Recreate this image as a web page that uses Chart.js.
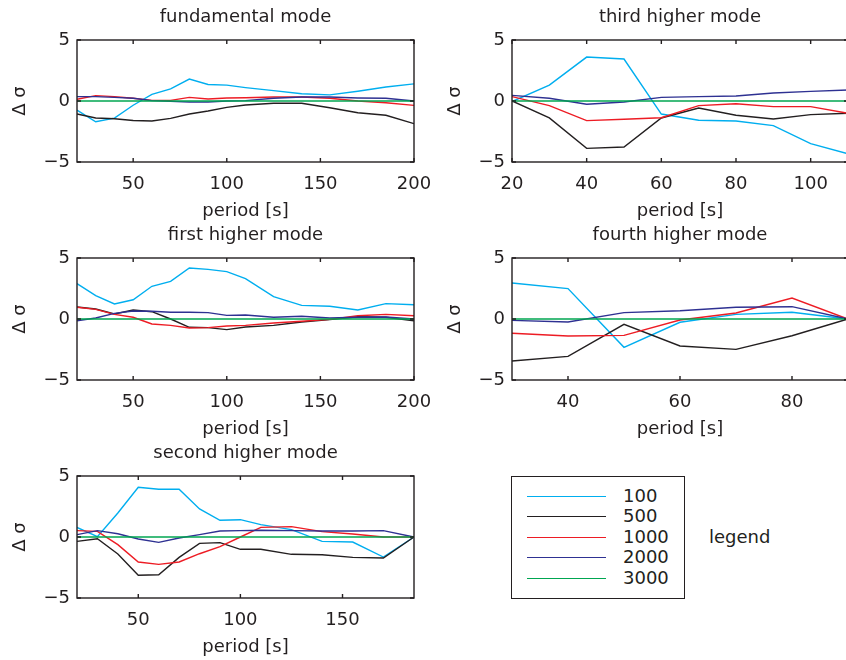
<!DOCTYPE html>
<html>
<head>
<meta charset="utf-8">
<title>Δσ per mode</title>
<script src="https://cdn.jsdelivr.net/npm/chart.js@4.4.1/dist/chart.umd.min.js"></script>
<style>
    html, body {
        margin: 0;
        padding: 0;
        overflow: hidden;
        background: #ffffff;
    }
    body {
        position: relative;
        width: 846px;
        height: 660px;
        font-family: "DejaVu Sans", sans-serif;
        color: #231f20;
    }
    canvas.panel {
        position: absolute;
    }
    #legendBox {
        position: absolute;
        left: 511px;
        top: 476px;
        width: 172px;
        height: 121px;
        border: 1.5px solid #231f20;
    }
    .legend-row {
        position: absolute;
        left: 0;
        height: 20px;
        width: 172px;
        font-size: 18px;
        line-height: 20px;
    }
    .legend-line {
        position: absolute;
        left: 15px;
        top: 10px;
        width: 79px;
        height: 1px;
    }
    .legend-label {
        position: absolute;
        left: 111px;
        top: 0;
    }
    #legendText {
        position: absolute;
        left: 709px;
        top: 526px;
        font-size: 18px;
        line-height: 22px;
    }
</style>
</head>
<body>
<canvas id="fundChart" class="panel" width="444" height="225"></canvas>
<canvas id="thirdChart" class="panel" width="433" height="225"></canvas>
<canvas id="firstChart" class="panel" width="444" height="225"></canvas>
<canvas id="fourthChart" class="panel" width="433" height="225"></canvas>
<canvas id="secondChart" class="panel" width="444" height="225"></canvas>
<div id="legendBox"></div>
<div id="legendText">legend</div>

<script>
// Series shared by every panel
const SERIES_NAMES = ['100', '500', '1000', '2000', '3000'];
const SERIES_COLORS = ['#00aeef', '#231f20', '#ed1c24', '#2e3192', '#00a651'];
const Y_TICKS = [-5, 0, 5];

// fundamental mode
const fundPeriods = [20, 30, 40, 50, 60, 70, 80, 90, 100, 110, 125, 140, 155, 170, 185, 200];
const fund100  = [-0.75, -1.7, -1.4, -0.35, 0.55, 1.0, 1.8, 1.35, 1.3, 1.1, 0.85, 0.6, 0.5, 0.8, 1.15, 1.4];
const fund500  = [-1.07, -1.39, -1.45, -1.6, -1.64, -1.42, -1.07, -0.82, -0.52, -0.33, -0.19, -0.19, -0.55, -0.96, -1.17, -1.86];
const fund1000 = [0.14, 0.44, 0.36, 0.22, 0.05, 0.05, 0.3, 0.16, 0.25, 0.27, 0.33, 0.33, 0.22, 0, -0.14, -0.36];
const fund2000 = [0.36, 0.36, 0.3, 0.22, 0.03, -0.03, -0.08, -0.08, 0, 0.03, 0.22, 0.33, 0.33, 0.25, 0.22, 0];
const fund3000 = [0, 0, 0, 0, 0, 0, 0, 0, 0, 0, 0, 0, 0, 0, 0, 0];
const fundTicks = [50, 100, 150, 200];

// third higher mode
const thirdPeriods = [20, 30, 40, 50, 60, 70, 80, 90, 100, 110];
const third100  = [-0.05, 1.31, 3.6, 3.44, -1.07, -1.58, -1.64, -2.02, -3.5, -4.32];
const third500  = [0, -1.39, -3.88, -3.77, -1.39, -0.57, -1.17, -1.48, -1.12, -1.01];
const third1000 = [0.36, -0.38, -1.61, -1.5, -1.37, -0.38, -0.22, -0.46, -0.46, -1.01];
const third2000 = [0.46, 0.22, -0.27, -0.08, 0.3, 0.36, 0.41, 0.66, 0.79, 0.9];
const third3000 = [0, 0, 0, 0, 0, 0, 0, 0, 0, 0];
const thirdTicks = [20, 40, 60, 80, 100];

// first higher mode
const firstPeriods = [20, 30, 40, 50, 60, 70, 80, 90, 100, 110, 125, 140, 155, 170, 185, 200];
const first100  = [2.9, 1.91, 1.23, 1.58, 2.68, 3.09, 4.18, 4.07, 3.88, 3.31, 1.83, 1.12, 1.04, 0.74, 1.26, 1.17];
const first500  = [0.98, 0.82, 0.41, 0.74, 0.6, 0, -0.68, -0.71, -0.87, -0.66, -0.52, -0.25, -0.05, 0.19, 0.14, -0.14];
const first1000 = [0.96, 0.79, 0.38, 0.14, -0.41, -0.52, -0.74, -0.71, -0.57, -0.52, -0.33, -0.19, -0.03, 0.27, 0.38, 0.27];
const first2000 = [-0.14, 0.08, 0.46, 0.66, 0.63, 0.55, 0.55, 0.52, 0.3, 0.33, 0.14, 0.22, 0.08, 0.14, 0.16, 0];
const first3000 = [0, 0, 0, 0, 0, 0, 0, 0, 0, 0, 0, 0, 0, 0, 0, 0];
const firstTicks = [50, 100, 150, 200];

// fourth higher mode
const fourthPeriods = [30, 40, 50, 60, 70, 80, 90];
const fourth100  = [2.95, 2.49, -2.32, -0.27, 0.38, 0.55, 0];
const fourth500  = [-3.44, -3.06, -0.44, -2.21, -2.49, -1.37, 0];
const fourth1000 = [-1.17, -1.39, -1.34, -0.08, 0.49, 1.72, 0];
const fourth2000 = [-0.11, -0.25, 0.52, 0.68, 0.96, 1.01, 0];
const fourth3000 = [0, 0, 0, 0, 0, 0, 0];
const fourthTicks = [40, 60, 80];

// second higher mode
const secondPeriods = [20, 30, 40, 50, 60, 70, 80, 90, 100, 110, 125, 140, 155, 170, 185];
const second100  = [0.79, 0.03, 1.97, 4.07, 3.91, 3.91, 2.3, 1.37, 1.42, 1.01, 0.6, -0.36, -0.41, -1.64, 0];
const second500  = [-0.36, -0.14, -1.39, -3.14, -3.09, -1.67, -0.52, -0.46, -1.01, -1.01, -1.42, -1.45, -1.67, -1.72, 0];
const second1000 = [0.52, 0.46, -0.63, -2.05, -2.24, -2.05, -1.37, -0.79, 0, 0.79, 0.85, 0.44, 0.25, 0, 0];
const second2000 = [0.19, 0.52, 0.27, -0.16, -0.44, -0.08, 0.19, 0.49, 0.52, 0.55, 0.52, 0.49, 0.49, 0.52, 0];
const second3000 = [0, 0, 0, 0, 0, 0, 0, 0, 0, 0, 0, 0, 0, 0, 0];
const secondTicks = [50, 100, 150];

const TEXT_COLOR = '#231f20';
const FONT = { family: '"DejaVu Sans", sans-serif', size: 18, weight: 'normal' };

Chart.defaults.font.family = FONT.family;
Chart.defaults.font.size = FONT.size;
Chart.defaults.color = TEXT_COLOR;

// Axes box with inward tick marks, like the original figure
const axesBoxPlugin = {
    id: 'axesBox',
    afterDraw(chart) {
        const { ctx, chartArea: a, scales } = chart;
        ctx.save();
        ctx.strokeStyle = TEXT_COLOR;
        ctx.lineWidth = 1.4;
        ctx.beginPath();
        scales.x.ticks.forEach(t => {
            const px = scales.x.getPixelForValue(t.value);
            ctx.moveTo(px, a.bottom);
            ctx.lineTo(px, a.bottom - 4);
            ctx.moveTo(px, a.top);
            ctx.lineTo(px, a.top + 4);
        });
        scales.y.ticks.forEach(t => {
            const py = scales.y.getPixelForValue(t.value);
            ctx.moveTo(a.left, py);
            ctx.lineTo(a.left + 4, py);
            ctx.moveTo(a.right, py);
            ctx.lineTo(a.right - 4, py);
        });
        ctx.stroke();
        ctx.strokeRect(a.left, a.top, a.right - a.left, a.bottom - a.top);
        ctx.restore();
    }
};

// Create one mode panel (line chart)
function createModeChart(canvasId, title, periods, series, xMin, xMax, xTicks, left, top, rightPad) {
    const canvas = document.getElementById(canvasId);
    canvas.style.left = left + 'px';
    canvas.style.top = top + 'px';

    const datasets = series.map((values, i) => ({
        label: SERIES_NAMES[i],
        data: periods.map((p, j) => ({ x: p, y: values[j] })),
        borderColor: SERIES_COLORS[i],
        backgroundColor: SERIES_COLORS[i],
        borderWidth: 1.4,
        pointRadius: 0,
        tension: 0,
        fill: false,
        // later series sit on top, as in the original
        order: series.length - 1 - i
    }));

    const config = {
        type: 'line',
        data: { datasets: datasets },
        options: {
            responsive: false,
            animation: false,
            devicePixelRatio: 1,
            layout: { padding: { left: 0, right: rightPad, top: 0, bottom: 0 } },
            plugins: {
                legend: { display: false },
                tooltip: { enabled: false },
                title: {
                    display: true,
                    fullSize: false,
                    text: title,
                    color: TEXT_COLOR,
                    font: FONT,
                    padding: { top: 7, bottom: 11.4 }
                }
            },
            scales: {
                x: {
                    type: 'linear',
                    position: 'bottom',
                    min: xMin,
                    max: xMax,
                    afterBuildTicks: scale => {
                        scale.ticks = xTicks.map(v => ({ value: v }));
                    },
                    afterFit: scale => { scale.height = 63; },
                    grid: { display: false, drawTicks: false },
                    border: { display: false },
                    ticks: { padding: 12, maxRotation: 0, autoSkip: false, color: TEXT_COLOR, font: FONT },
                    title: {
                        display: true,
                        text: 'period [s]',
                        color: TEXT_COLOR,
                        font: FONT,
                        padding: { top: 0, bottom: 3 }
                    }
                },
                y: {
                    type: 'linear',
                    min: -5,
                    max: 5,
                    afterBuildTicks: scale => {
                        scale.ticks = Y_TICKS.map(v => ({ value: v }));
                    },
                    afterFit: scale => { scale.width = 77; },
                    grid: { display: false, drawTicks: false },
                    border: { display: false },
                    ticks: {
                        padding: 7,
                        color: TEXT_COLOR,
                        font: FONT,
                        callback: value => (value < 0 ? '\u2212' + Math.abs(value) : String(value))
                    },
                    title: {
                        display: true,
                        text: 'Δ σ',
                        color: TEXT_COLOR,
                        font: FONT,
                        padding: { top: 10, bottom: 0 }
                    }
                }
            }
        },
        plugins: [axesBoxPlugin]
    };

    return new Chart(canvas, config);
}

// Build the separate legend box from one chart's own legend items
function buildLegend(chart) {
    const box = document.getElementById('legendBox');
    const items = chart.options.plugins.legend.labels.generateLabels(chart);
    items.sort((a, b) => a.datasetIndex - b.datasetIndex);
    items.forEach((item, i) => {
        const row = document.createElement('div');
        row.className = 'legend-row';
        row.style.top = Math.round(9 + i * 20.4) + 'px';

        const line = document.createElement('div');
        line.className = 'legend-line';
        line.style.background = item.strokeStyle;

        const label = document.createElement('div');
        label.className = 'legend-label';
        label.textContent = item.text;

        row.appendChild(line);
        row.appendChild(label);
        box.appendChild(row);
    });
}

const charts = [];
charts.push(createModeChart('fundChart', 'fundamental mode', fundPeriods,
    [fund100, fund500, fund1000, fund2000, fund3000], 20, 200, fundTicks, 0, 0, 30));
charts.push(createModeChart('thirdChart', 'third higher mode', thirdPeriods,
    [third100, third500, third1000, third2000, third3000], 20, 110, thirdTicks, 435, 0, 20));
charts.push(createModeChart('firstChart', 'first higher mode', firstPeriods,
    [first100, first500, first1000, first2000, first3000], 20, 200, firstTicks, 0, 218, 30));
charts.push(createModeChart('fourthChart', 'fourth higher mode', fourthPeriods,
    [fourth100, fourth500, fourth1000, fourth2000, fourth3000], 30, 90, fourthTicks, 435, 218, 20));
charts.push(createModeChart('secondChart', 'second higher mode', secondPeriods,
    [second100, second500, second1000, second2000, second3000], 20, 185, secondTicks, 0, 436, 30));

buildLegend(charts[0]);
</script>
</body>
</html>
